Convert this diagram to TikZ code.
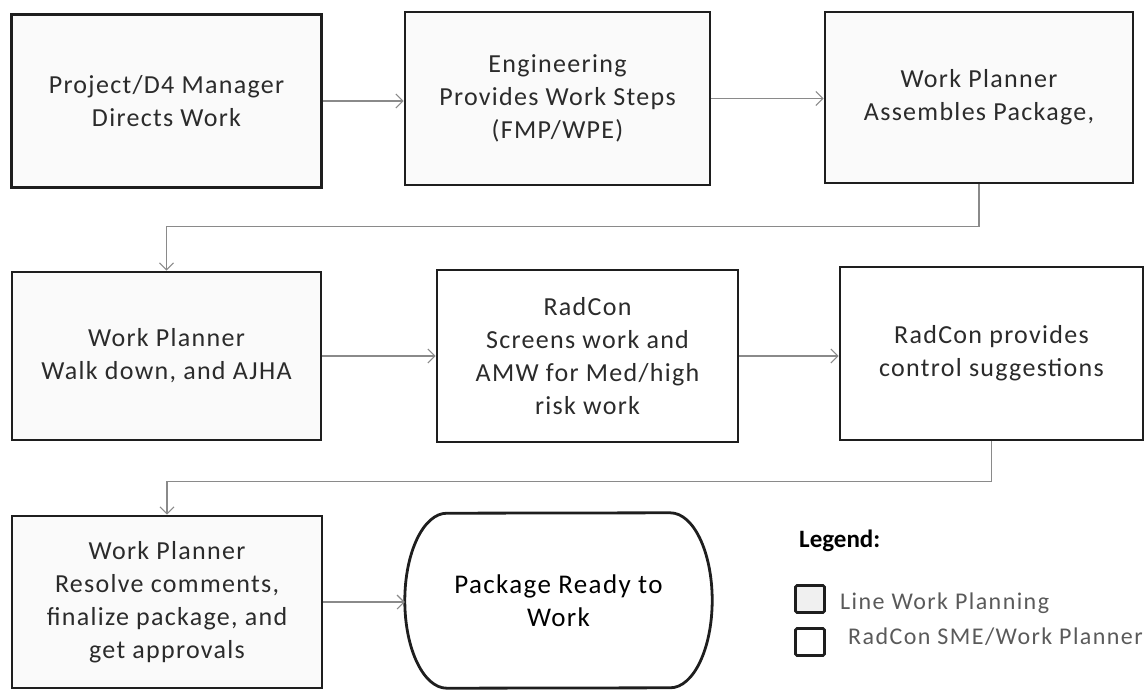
\documentclass[tikz,border=0pt]{standalone}
\usepackage{fontspec}
\setmainfont{Carlito}
\newfontfamily\boxfont[LetterSpace=5]{Carlito}
\newfontfamily\keyfont[LetterSpace=6]{Carlito}
\usetikzlibrary{arrows.meta}
\definecolor{inkdark}{HTML}{1E1E1E}
\definecolor{txtdark}{HTML}{2B2B2B}
\definecolor{txtgrey}{HTML}{5A5A5A}
\definecolor{flowgrey}{HTML}{8A8A8A}
\definecolor{paleplan}{HTML}{FAFAFA}
\tikzset{
  stepbox/.style={draw=inkdark, line width=2.8pt, fill=paleplan, align=center,
    text=txtdark, font=\boxfont\fontsize{26}{33}\selectfont, inner sep=0pt},
  flow/.style={draw=flowgrey, line width=1.3pt,
    -{Straight Barb[length=7pt,width=14pt,line width=1.1pt]}},
  keybox/.style={draw=inkdark, line width=2.6pt, rounded corners=1.5pt,
    minimum width=29pt, minimum height=27pt, inner sep=0pt},
  keytext/.style={anchor=west, text=txtgrey, font=\keyfont\fontsize{24}{28}\selectfont, inner sep=0pt}
}
\begin{document}
\begin{tikzpicture}[x=1pt, y=-1pt]
\useasboundingbox (0,0) rectangle (1145,690);

% first row
\node[stepbox, minimum width=310pt, minimum height=173pt] (b1) at (166.5,101)
  {Project/D4 Manager\\Directs Work};
\node[stepbox, minimum width=305pt, minimum height=173pt] (b2) at (557.5,98.5)
  {Engineering\\Provides Work Steps\\(FMP/WPE)};
\node[stepbox, minimum width=308pt, minimum height=171pt] (b3) at (979,97.5)
  {Work Planner\\Assembles Package,};

% second row
\node[stepbox, minimum width=309pt, minimum height=168pt] (b4) at (166.5,356)
  {Work Planner\\Walk down,  and AJHA};
\node[stepbox, minimum width=301pt, minimum height=172pt, fill=white] (b5) at (587.5,356)
  {RadCon\\Screens work and\\AMW for Med/high\\risk work};
\node[stepbox, minimum width=303pt, minimum height=173pt, fill=white] (b6) at (991.5,353.5)
  {RadCon provides\\control suggestions};

% third row
\node[stepbox, minimum width=310pt, minimum height=172pt] (b7) at (167,602)
  {Work Planner\\Resolve comments,\\finalize package, and\\get approvals};
\node[minimum width=307pt, minimum height=175pt, inner sep=0pt, align=center,
  text=black, font=\boxfont\fontsize{27}{33}\selectfont] (t) at (558.5,600.5)
  {Package Ready to\\Work};
\draw[draw=inkdark, line width=2.8pt]
  ([xshift=-42pt]t.north east) arc[start angle=-90, end angle=90, x radius=42, y radius=87.5]
  -- ([xshift=42pt]t.south west) arc[start angle=90, end angle=270, x radius=42, y radius=87.5]
  -- cycle;

% connectors
\draw[flow] (b1.east) -- (b1.east -| b2.west);
\draw[flow] (b2.east) -- (b2.east -| b3.west);
\draw[flow] (b3.south) -- ++(0,42) -| (b4.north);
\draw[flow] (b4.east) -- (b4.east -| b5.west);
\draw[flow] (b5.east) -- (b5.east -| b6.west);
\draw[flow] (b6.south) -- ++(0,40) -| (b7.north);
\draw[flow] (b7.east) -- (b7.east -| t.west);

% legend
\node[anchor=west, inner sep=0pt, text=black, font=\fontsize{25}{28}\selectfont\bfseries]
  (lgd) at (799,541) {Legend:};
\node[keybox, fill=black!6] (k1) at (810,599) {};
\node[keybox, fill=white] (k2) at (810,642) {};
\node[keytext] (k1t) at (840,603) {Line Work Planning};
\node[keytext] (k2t) at (848,637) {RadCon SME/Work Planner};
\end{tikzpicture}
\end{document}
